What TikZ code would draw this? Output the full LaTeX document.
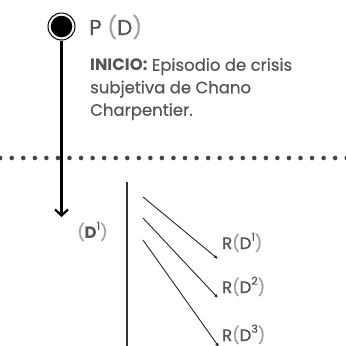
\documentclass[tikz,border=0pt]{standalone}
\usepackage{fontspec}
\setmainfont{Poppins}[UprightFeatures={FakeBold=0.6}, BoldFeatures={FakeBold=0}]
\usetikzlibrary{arrows.meta}
\definecolor{txt}{HTML}{555555}
\definecolor{lite}{HTML}{A0A0A0}
\definecolor{dotc}{HTML}{444444}
\newcommand\supx[1]{\raisebox{0.5em}{\fontsize{11}{11}\selectfont #1}}
\newcommand\lp{{\color{lite}(}}
\newcommand\rp{{\color{lite})}}
\tikzset{
  lbl/.style={inner sep=0pt, text=txt, font=\fontsize{16.5}{18}\selectfont},
  thinarrow/.style={line width=0.9pt, draw=black!85, -{Latex[length=4pt,width=3.5pt]}},
}
\begin{document}
\begin{tikzpicture}[x=1pt,y=-1pt]
\useasboundingbox (0,0) rectangle (346,346);
% dotted line
\foreach \i in {0,...,30}{
  \fill[dotc] ({0.2+11.55*\i},158) circle (2.3pt);
}
% start circle
\node (start) [circle, draw=black, line width=1pt, fill=white, minimum size=27pt, inner sep=0pt,
  path picture={\fill[black] (path picture bounding box.center) circle (10.8pt);}] at (61.5,26.5) {};
\coordinate (mainend) at (61.5,217);
\draw[line width=2.2pt, -{Straight Barb[length=6pt,width=13pt]}] (start.south) -- (mainend);
% title
\node (title) [anchor=base west, inner sep=0pt, text=txt, font=\fontsize{21.5}{24}\selectfont] at (89,35) {P \lp D\rp};
% description
\node (desc) [anchor=north west, inner sep=0pt, text=txt, align=left,
  font=\fontsize{16.5}{22.5}\selectfont] at (90,58)
  {\textbf{INICIO:} Episodio de crisis\\subjetiva de Chano\\Charpentier.};
% second vertical line
\coordinate (vtop) at (127,182);
\coordinate (vbot) at (127,346);
\draw[line width=1.1pt, draw=black!80] (vtop) -- (vbot);
% D1 label
\node (d1) [lbl, anchor=base west] at (77,238) {\lp\textbf{D}\supx{1}\rp};
% R labels
\node (r1) [lbl, anchor=base west] at (222,249) {R\lp D\supx{1}\rp};
\node (r2) [lbl, anchor=base west] at (222,293) {R\lp D\supx{2}\rp};
\node (r3) [lbl, anchor=base west] at (222,341) {R\lp D\supx{3}\rp};
% arrow starts
\coordinate (s1) at (143,197);
\coordinate (s2) at (143,218);
\coordinate (s3) at (143,240);
\draw[thinarrow] (s1) -- ([xshift=-4pt,yshift=-10pt]r1.base west);
\draw[thinarrow] (s2) -- ([xshift=-4pt,yshift=-5pt]r2.base west);
\draw[thinarrow] (s3) -- ([xshift=-3pt,yshift=-6pt]r3.base west);
\end{tikzpicture}
\end{document}
